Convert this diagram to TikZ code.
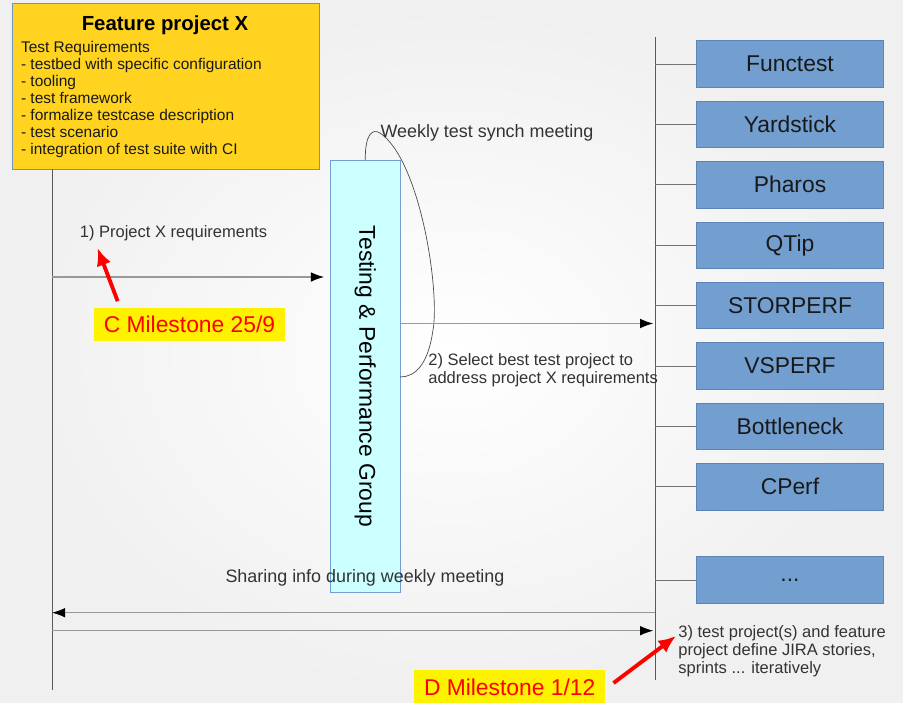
\documentclass[tikz,border=0pt]{standalone}
\usepackage{fontspec}
\setmainfont{Liberation Sans}
\usepackage{xcolor}
\usetikzlibrary{arrows,arrows.meta}
\usetikzlibrary{positioning}
\definecolor{reqyellow}{HTML}{FFD320}
\definecolor{grpcyan}{HTML}{CCFFFF}
\definecolor{projblue}{HTML}{729FCF}
\definecolor{projedge}{HTML}{3465A4}
\tikzset{msg/.style={-{Latex[length=7.5pt,width=5.5pt,black]},draw=black!40,semithick},life/.style={draw=black!65,thin},tick/.style={draw=black!55,thin},proj/.style={rectangle,draw=projedge!80,fill=projblue,minimum width=3.73cm,minimum height=0.93cm,text=black!90,font=\fontsize{13}{15}\selectfont},milestone/.style={rectangle,fill=yellow,text=red,minimum width=3.82cm,minimum height=0.68cm,font=\fontsize{13}{15}\selectfont},redarrow/.style={-{Latex[length=10pt,width=8.5pt]},red,line width=2.2pt}}
\tikzstyle{req}=[rectangle,draw=projedge!70,fill=reqyellow,minimum width=6.14cm,minimum height=3.32cm]
\tikzstyle{grp}=[rectangle,draw=projblue,fill=grpcyan,minimum width=1.39cm,minimum height=8.65cm]

\begin{document}
\begin{tikzpicture} [x=0.02cm,y=-0.02cm,align=center,inner sep=0pt,font=\fontsize{9.4}{10.2}\selectfont,text=black!80]

\shade[inner color=white,outer color=black!6] (0,0) rectangle (903,703);
\useasboundingbox (0,0) rectangle (903,703);

% feature project and its lifeline
\node (feat) at (165.5,86)[req]{};
\node (title) at (165,25)[font=\fontsize{11.6}{14}\selectfont\bfseries,text=black]{Feature project X};
\node (reqs) [below right=0.76cm and 0.18cm of feat.north west,align=left,text=black!90,font=\fontsize{8.8}{9.7}\selectfont]{Test Requirements\\- testbed with specific configuration\\- tooling\\- test framework\\- formalize testcase description\\- test scenario\\- integration of test suite with CI};
\coordinate (lbot) at (52,690);
\draw[life] (feat.south -| lbot) -- (lbot);

% testing group
\node (grp) at (365.3,376.4)[grp]{};
\node (grplbl) at (grp.center)[rotate=-90,text=black,font=\fontsize{13}{15}\selectfont]{Testing \& Performance Group};

% test projects
\coordinate (rtop) at (655,37);
\coordinate (rbot) at (655,680);
\draw[life] (rtop) -- (rbot);
\node (p1) at (790,64)[proj]{Functest};
\node (p2) at (790,124.4)[proj]{Yardstick};
\node (p3) at (790,184.8)[proj]{Pharos};
\node (p4) at (790,245.2)[proj]{QTip};
\node (p5) at (790,305.6)[proj]{STORPERF};
\node (p6) at (790,366)[proj]{VSPERF};
\node (p7) at (790,426.4)[proj]{Bottleneck};
\node (p8) at (790,486.8)[proj]{CPerf};
\node (p9) at (790,580)[proj]{...};
\foreach \p in {p1,p2,p3,p4,p5,p6,p7,p8,p9}
  \draw[tick] (\p.west) -- (\p.west -| rtop);

% 1) requirements
\coordinate (a1) at (52,277);
\draw[msg,shorten >=3.5pt] (a1) -- (a1 -| grp.west);
\node (m1) at (173.5,233){1) Project X requirements};

% weekly loop
\coordinate (lend) at (400,377);
\draw[black!70,thin] (grp.north) .. controls (365,135) and (372,128) .. (380,133) .. controls (420,160) and (440,290) .. (433,330) .. controls (428,365) and (415,377) .. (lend);
\node (wk) at (487,133)[font=\fontsize{10.2}{12}\selectfont]{Weekly test synch meeting};

% 2) selection
\coordinate (a2) at (655,323.5);
\draw[msg,shorten >=1pt] (grp.east |- a2) -- (a2);
\node (m2) at (428,370.5)[anchor=west,align=left]{2) Select best test project to\\address project X requirements};

% sharing info
\node (share) at (365,578)[font=\fontsize{10.2}{12}\selectfont]{Sharing info during weekly meeting};
\coordinate (a3) at (655,612.7);
\draw[msg] (a3) -- (a3 -| lbot);
\coordinate (a4) at (52,630.7);
\draw[msg,shorten >=1pt] (a4) -- (a4 -| rtop);
\node (m3) at (678,651.5)[anchor=west,align=left]{3) test project(s) and feature\\project define JIRA stories,\\sprints ... iteratively};

% milestones
\node (msc) at (189.5,324.5)[milestone]{C Milestone 25/9};
\draw[redarrow] ([xshift=0.48cm,yshift=0.12cm]msc.north west) -- ([xshift=0.36cm,yshift=-0.14cm]m1.south west);
\node (msd) at (509.7,687)[milestone]{D Milestone 1/12};
\draw[redarrow] ([xshift=0.16cm,yshift=0.08cm]msd.east) -- ([xshift=-0.04cm,yshift=0.31cm]m3.west);
\end{tikzpicture}
\end{document}
